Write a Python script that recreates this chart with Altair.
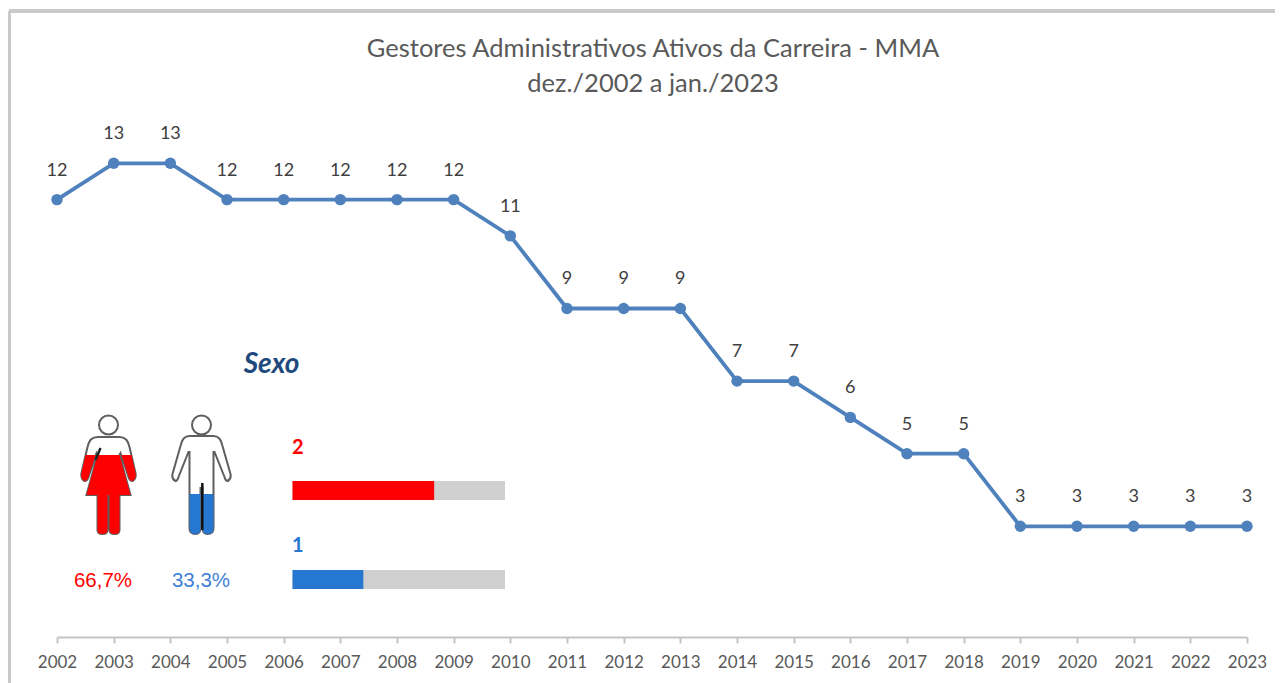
import altair as alt
import pandas as pd

years = list(range(2002, 2024))
values = [12, 13, 13, 12, 12, 12, 12, 12, 11, 9, 9, 9, 7, 7, 6, 5, 5, 3, 3, 3, 3, 3]
title_lines = ["Gestores Administrativos Ativos da Carreira - MMA", "dez./2002 a jan./2023"]
groups = ["Feminino", "Masculino"]
counts = [2, 1]
percent_labels = ["66,7%", "33,3%"]
group_colors = ["#ff0000", "#2577d0"]
panel_title = ["Sexo"]
total = 3

W, H = 1190, 510
PADDING = {"left": 49, "top": 119, "right": 28, "bottom": 46}

df = pd.DataFrame({"ano": years, "valor": values})
gdf = pd.DataFrame({"grupo": groups, "n": counts, "pct": percent_labels, "total": [total] * 2})
tdf = pd.DataFrame({"linha": title_lines})

xs = alt.Scale(domain=[2002, 2023], nice=False, zero=False)
ys = alt.Scale(domain=[-0.05, 14], nice=False, zero=False)
X = alt.X("ano:Q", scale=xs, axis=None)
Y = alt.Y("valor:Q", scale=ys, axis=None)
LINE = "#4f81bd"

line = alt.Chart(df).mark_line(color=LINE, strokeWidth=3.8).encode(
    x=alt.X("ano:Q", scale=xs, title=None, axis=alt.Axis(
        values=years, format="d", grid=False, domainColor="#c4c4c4", domainWidth=2,
        tickColor="#c4c4c4", tickWidth=2, tickSize=6, labelFont="Lato", labelFontSize=17,
        labelColor="#595959", labelPadding=11, labelOverlap=False, labelFlush=False)),
    y=Y)
pts = alt.Chart(df).mark_point(color=LINE, filled=True, opacity=1, size=130).encode(x=X, y=Y)
lab = alt.Chart(df).mark_text(font="Lato", fontSize=18, color="#404040", dy=-29).encode(
    x=X, y=Y, text="valor:Q")

ttl = alt.Chart(tdf).mark_text(font="Lato", fontSize=25.5, color="#595959").encode(
    x=alt.value(596),
    y=alt.Y("linha:N", scale=alt.Scale(type="point", domain=title_lines, range=[-78, -43], padding=0), axis=None),
    text="linha:N")

# separate panel: share-of-total bars
bx = alt.Scale(domain=[0, total], range=[235.5, 448], nice=False, zero=True)
by = alt.Scale(type="point", domain=groups, range=[363.5, 452.5], padding=0)
tx = alt.Scale(type="point", domain=groups, range=[235, 235], padding=0)
ty = alt.Scale(type="point", domain=groups, range=[321, 419], padding=0)
colr = alt.Scale(domain=groups, range=group_colors)

bg = alt.Chart(gdf).mark_bar(size=19, color="#cfcfcf").encode(
    x=alt.X("total:Q", scale=bx, axis=None, stack=None),
    y=alt.Y("grupo:N", scale=by, axis=None))
fg = alt.Chart(gdf).mark_bar(size=19).encode(
    x=alt.X("n:Q", scale=bx, axis=None, stack=None),
    y=alt.Y("grupo:N", scale=by, axis=None),
    color=alt.Color("grupo:N", scale=colr, legend=None))
ntext = alt.Chart(gdf).mark_text(font="Lato", fontSize=20, fontWeight="bold", align="left").encode(
    x=alt.X("grupo:N", scale=tx, axis=None),
    y=alt.Y("grupo:N", scale=ty, axis=None),
    text="n:Q",
    color=alt.Color("grupo:N", scale=colr, legend=None))

# pictograms
ix = alt.Scale(type="point", domain=groups, range=[51.5, 144.5], padding=0)
iy = alt.Scale(type="point", domain=groups, range=[353, 353], padding=0)

HEAD = "M-9.5,-55 A9.5,9.5 0 1,1 9.5,-55 A9.5,9.5 0 1,1 -9.5,-55 Z "
W_OUT = HEAD + ("M-11,-43 L11,-43 Q19,-43 21,-33 L27,-7 Q28,-1 24,1 Q21,1 20,-3 L12,-27 "
    "L11,-25 L22,15 L11,15 L11,50 Q11,54 6,54 Q1,54 1,50 L1,15 L-1,15 L-1,50 Q-1,54 -6,54 "
    "Q-11,54 -11,50 L-11,15 L-22,15 L-11,-25 L-12,-27 L-20,-3 Q-21,1 -24,1 Q-28,-1 -27,-7 "
    "L-21,-33 Q-19,-43 -11,-43 Z")
W_FILL = ("M-23,-25 L-13,-25 L-20,-3 Q-21,1 -24,1 Q-28,-1 -27,-7 Z "
    "M23,-25 L13,-25 L20,-3 Q21,1 24,1 Q28,-1 27,-7 Z "
    "M-11,-25 L11,-25 L22,15 L11,15 L11,50 Q11,54 6,54 Q1,54 1,50 L1,15 L-1,15 L-1,50 "
    "Q-1,54 -6,54 Q-11,54 -11,50 L-11,15 L-22,15 Z")
W_BLACK = "M-8,-32 L-13,-20"
M_OUT = HEAD + ("M-12,-44 L12,-44 Q19,-44 21,-34 L29,-6 Q30,-1 26,1 Q24,1 23,-3 L13,-28 L12,-28 "
    "L12,48 Q12,54 6,54 Q1,54 1,48 L1,8 L-1,8 L-1,48 Q-1,54 -6,54 Q-12,54 -12,48 L-12,-28 L-13,-28 "
    "L-23,-3 Q-24,1 -26,1 Q-30,-1 -29,-6 L-21,-34 Q-19,-44 -12,-44 Z")
M_FILL = ("M-12,14 L12,14 L12,48 Q12,54 6,54 Q1,54 1,48 L1,14 L-1,14 L-1,48 Q-1,54 -6,54 "
    "Q-12,54 -12,48 Z")
M_BLACK = "M0.8,3 L0.8,50"


def icon(group, path, fill=None, stroke=None, sw=2.0):
    kw = {"shape": path, "size": 4, "opacity": 1}
    if fill:
        kw.update(filled=True, fill=fill, strokeWidth=0)
    else:
        kw.update(filled=False, fill="#ffffff", fillOpacity=1, stroke=stroke, strokeWidth=sw)
    return alt.Chart(gdf[gdf.grupo == group]).mark_point(**kw).encode(
        x=alt.X("grupo:N", scale=ix, axis=None),
        y=alt.Y("grupo:N", scale=iy, axis=None))


icons = [
    icon("Feminino", W_OUT, stroke="#5f5f5f"),
    icon("Feminino", W_FILL, fill=group_colors[0]),
    icon("Feminino", W_BLACK, stroke="#222222", sw=2.5),
    icon("Masculino", M_OUT, stroke="#5f5f5f"),
    icon("Masculino", M_FILL, fill=group_colors[1]),
    icon("Masculino", M_BLACK, stroke="#111111", sw=2.5),
]

p_x = alt.Scale(type="point", domain=groups, range=[46, 144], padding=0)
p_y = alt.Scale(type="point", domain=groups, range=[454, 454], padding=0)
pct = alt.Chart(gdf).mark_text(font="Liberation Sans", fontSize=20.5).encode(
    x=alt.X("grupo:N", scale=p_x, axis=None),
    y=alt.Y("grupo:N", scale=p_y, axis=None),
    text="pct:N",
    color=alt.Color("grupo:N", scale=alt.Scale(domain=groups, range=["#ff0000", "#3f7fd6"]), legend=None))

sdf = pd.DataFrame({"t": panel_title})
sexo = alt.Chart(sdf).mark_text(font="Lato", fontSize=28, fontWeight="bold", fontStyle="italic",
                                color="#1f497d").encode(
    x=alt.value(214.5), y=alt.value(238), text="t:N")

# chart frame
frame_c = "#c9c9c9"
fdf = pd.DataFrame({"t": panel_title})
f_top = alt.Chart(fdf).mark_rule(color=frame_c, strokeWidth=4).encode(
    x=alt.value(-48), x2=alt.value(1218), y=alt.value(-116))
f_left = alt.Chart(fdf).mark_rule(color=frame_c, strokeWidth=4).encode(
    x=alt.value(-48), y=alt.value(-116), y2=alt.value(556))

chart = alt.layer(f_top, f_left, ttl, line, pts, lab, bg, fg, ntext, *icons, pct, sexo).resolve_scale(
    x="independent", y="independent", color="independent"
).properties(
    width=W, height=H,
    padding=PADDING,
    autosize=alt.AutoSizeParams(type="none"),
    background="#ffffff",
).configure_view(stroke=None)

chart.save("out.html", embed_options={"renderer": "svg", "actions": False})
